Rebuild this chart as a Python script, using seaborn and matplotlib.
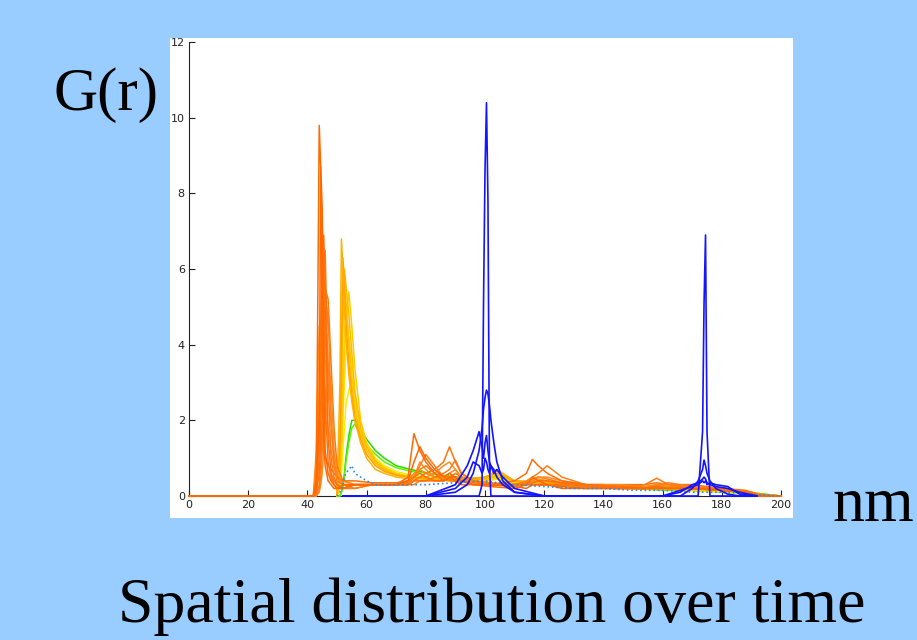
import matplotlib
matplotlib.use("Agg")
import matplotlib.pyplot as plt
import seaborn as sns
from matplotlib.patches import Rectangle

# r grids (nm) and G(r) values
ORANGE_R = [0, 42, 43, 44, 44.5, 45, 45.5, 46, 47, 48, 49, 50, 52, 56, 62, 70, 74, 76, 78, 80, 83,
            86, 88, 90, 92, 96, 102, 110, 114, 116, 118, 121, 126, 134, 145, 154, 158, 162, 170,
            180, 188, 192, 200]
orange_g = [
    [0, 0, 0.3, 9.8, 8.7, 4.0, 1.5, 0.8, 0.4, 0.3, 0.2, 0.2, 0.3, 0.3, 0.3, 0.3, 0.5, 1.65, 1.2, 0.9, 0.6,
     0.4, 0.5, 0.4, 0.3, 0.3, 0.25, 0.2, 0.3, 0.5, 0.4, 0.3, 0.2, 0.2, 0.2, 0.2, 0.25, 0.2, 0.2, 0.2, 0.1, 0, 0],
    [0, 0, 0.2, 2.0, 8.7, 7.6, 3.0, 1.2, 0.6, 0.4, 0.3, 0.2, 0.2, 0.3, 0.3, 0.3, 0.4, 0.9, 1.3, 1.0, 0.7,
     0.5, 0.6, 0.5, 0.4, 0.3, 0.3, 0.25, 0.2, 0.3, 0.3, 0.3, 0.25, 0.2, 0.2, 0.2, 0.2, 0.2, 0.2, 0.15, 0.1, 0, 0],
    [0, 0, 0.1, 1.0, 3.5, 7.2, 6.0, 2.5, 0.9, 0.5, 0.3, 0.2, 0.2, 0.3, 0.3, 0.3, 0.3, 0.4, 0.5, 0.6, 0.7,
     0.9, 1.3, 0.9, 0.6, 0.4, 0.3, 0.3, 0.3, 0.3, 0.3, 0.3, 0.3, 0.25, 0.2, 0.2, 0.2, 0.2, 0.2, 0.15, 0.1, 0, 0],
    [0, 0, 0.1, 0.6, 1.5, 4.0, 6.9, 5.5, 1.5, 0.6, 0.4, 0.3, 0.2, 0.3, 0.3, 0.3, 0.3, 0.4, 0.4, 0.4, 0.4,
     0.4, 0.5, 0.5, 0.4, 0.3, 0.3, 0.4, 0.6, 0.97, 0.8, 0.6, 0.4, 0.3, 0.25, 0.2, 0.2, 0.2, 0.2, 0.15, 0.1, 0, 0],
    [0, 0, 0, 0.3, 0.8, 2.0, 4.5, 6.5, 3.0, 1.0, 0.5, 0.3, 0.2, 0.2, 0.3, 0.3, 0.3, 0.3, 0.4, 0.4, 0.5,
     0.6, 0.7, 0.95, 0.6, 0.4, 0.3, 0.3, 0.3, 0.3, 0.3, 0.3, 0.3, 0.25, 0.2, 0.3, 0.47, 0.3, 0.2, 0.15, 0.1, 0, 0],
    [0, 0, 0, 0.2, 0.5, 1.2, 2.5, 4.0, 5.0, 2.0, 0.8, 0.4, 0.3, 0.2, 0.3, 0.3, 0.3, 0.5, 0.8, 1.1, 0.8,
     0.5, 0.4, 0.4, 0.4, 0.35, 0.3, 0.3, 0.4, 0.5, 0.6, 0.8, 0.5, 0.3, 0.25, 0.2, 0.3, 0.35, 0.25, 0.2, 0.1, 0, 0],
    [0, 0, 0, 0.1, 0.3, 0.6, 1.2, 2.0, 3.5, 3.0, 1.2, 0.6, 0.3, 0.3, 0.3, 0.3, 0.4, 0.6, 0.7, 0.6, 0.5,
     0.5, 0.6, 0.7, 0.5, 0.4, 0.3, 0.3, 0.3, 0.4, 0.5, 0.5, 0.4, 0.3, 0.3, 0.25, 0.3, 0.3, 0.25, 0.2, 0.1, 0, 0],
    [0, 0, 0.5, 2.2, 1.8, 1.5, 1.2, 1.0, 0.8, 0.7, 0.6, 0.5, 0.4, 0.4, 0.35, 0.35, 0.4, 0.5, 0.6, 0.5, 0.4,
     0.4, 0.45, 0.45, 0.4, 0.35, 0.3, 0.3, 0.3, 0.35, 0.4, 0.4, 0.35, 0.3, 0.3, 0.3, 0.35, 0.3, 0.3, 0.2, 0.15, 0.05, 0],
    [0, 0, 0.8, 3.0, 4.5, 6.0, 5.5, 4.8, 3.5, 2.0, 1.0, 0.5, 0.3, 0.3, 0.3, 0.3, 0.3, 0.4, 0.5, 0.5, 0.6,
     0.8, 0.9, 0.7, 0.5, 0.4, 0.3, 0.3, 0.3, 0.35, 0.4, 0.4, 0.3, 0.25, 0.2, 0.2, 0.25, 0.2, 0.2, 0.15, 0.1, 0, 0],
    [0, 0, 0.4, 1.5, 2.5, 3.5, 4.5, 5.5, 5.2, 3.5, 1.8, 0.8, 0.4, 0.3, 0.3, 0.3, 0.35, 0.5, 0.7, 0.8, 0.6,
     0.5, 0.5, 0.6, 0.5, 0.4, 0.35, 0.3, 0.35, 0.45, 0.5, 0.45, 0.35, 0.3, 0.25, 0.2, 0.3, 0.3, 0.2, 0.15, 0.1, 0, 0],
    [0, 0, 1.2, 4.5, 4.2, 3.8, 3.2, 2.6, 1.8, 1.2, 0.8, 0.5, 0.3, 0.3, 0.3, 0.3, 0.35, 0.5, 0.9, 0.7, 0.5,
     0.45, 0.5, 0.5, 0.45, 0.4, 0.3, 0.3, 0.3, 0.4, 0.45, 0.4, 0.3, 0.25, 0.25, 0.2, 0.3, 0.25, 0.2, 0.15, 0.1, 0, 0],
]
orange_colors = ["#FF6A00", "#FF6600", "#FF7510", "#FF6E08", "#FF7A14", "#FF801A", "#FF8A20", "#FF7000",
                 "#FF8C1A", "#FF7808", "#FF9020"]

MID_R = [50, 51, 51.5, 52, 52.5, 53, 54, 55, 56, 58, 60, 63, 66, 70, 75, 80, 90, 100, 104, 110,
         120, 130, 140, 150, 160, 170, 180, 186, 190, 194, 200]
yellow_g = [
    [0, 3.0, 6.8, 6.0, 5.0, 4.2, 3.2, 2.5, 2.0, 1.4, 1.0, 0.7, 0.6, 0.5, 0.45, 0.45, 0.4, 0.45, 0.7, 0.4,
     0.35, 0.3, 0.3, 0.25, 0.25, 0.2, 0.2, 0.15, 0.1, 0.02, 0],
    [0, 1.5, 4.0, 6.3, 5.6, 4.6, 3.5, 2.7, 2.1, 1.5, 1.1, 0.8, 0.65, 0.55, 0.5, 0.45, 0.4, 0.5, 0.6, 0.4,
     0.35, 0.3, 0.3, 0.25, 0.25, 0.2, 0.2, 0.15, 0.1, 0.02, 0],
    [0, 1.0, 3.0, 5.0, 6.0, 5.6, 4.8, 3.8, 2.8, 1.8, 1.3, 0.9, 0.7, 0.55, 0.5, 0.45, 0.42, 0.5, 0.65, 0.4,
     0.35, 0.3, 0.28, 0.25, 0.22, 0.2, 0.18, 0.12, 0.08, 0.02, 0],
    [0, 0.8, 2.5, 4.5, 5.8, 5.2, 4.0, 3.0, 2.3, 1.6, 1.2, 0.85, 0.7, 0.55, 0.5, 0.45, 0.4, 0.45, 0.55, 0.4,
     0.3, 0.3, 0.25, 0.25, 0.2, 0.2, 0.15, 0.12, 0.08, 0.02, 0],
    [0, 0.4, 1.2, 2.5, 3.8, 4.6, 5.4, 4.5, 3.4, 2.0, 1.4, 0.95, 0.75, 0.6, 0.5, 0.45, 0.4, 0.45, 0.55, 0.38,
     0.3, 0.28, 0.25, 0.22, 0.2, 0.18, 0.15, 0.1, 0.06, 0.02, 0],
    [0, 0.5, 1.5, 3.0, 4.2, 5.0, 4.2, 3.2, 2.5, 1.7, 1.3, 0.9, 0.75, 0.6, 0.5, 0.45, 0.4, 0.4, 0.5, 0.35,
     0.3, 0.3, 0.25, 0.2, 0.2, 0.15, 0.15, 0.1, 0.08, 0.02, 0],
    [0, 0.3, 1.0, 2.0, 3.0, 3.8, 4.2, 3.5, 2.7, 1.8, 1.35, 0.95, 0.75, 0.6, 0.5, 0.45, 0.4, 0.4, 0.45, 0.35,
     0.3, 0.25, 0.25, 0.2, 0.2, 0.15, 0.12, 0.1, 0.06, 0.02, 0],
    [0, 0.2, 0.6, 1.2, 1.8, 2.4, 2.8, 3.0, 2.6, 1.9, 1.4, 1.0, 0.8, 0.65, 0.55, 0.5, 0.42, 0.4, 0.45, 0.35,
     0.3, 0.25, 0.25, 0.2, 0.2, 0.15, 0.12, 0.1, 0.06, 0.02, 0],
]
yellow_colors = ["#FFB000", "#FFA000", "#FFBB00", "#FFC400", "#FFCC00", "#FFD500", "#FFE600", "#F0F000"]

green_g = [
    [0, 0, 0.1, 0.3, 0.6, 1.0, 1.6, 2.0, 2.0, 1.75, 1.5, 1.2, 1.0, 0.8, 0.7, 0.62, 0.5, 0.45, 0.5, 0.4,
     0.3, 0.3, 0.25, 0.2, 0.2, 0.15, 0.12, 0.1, 0.05, 0.05, 0],
    [0, 0, 0.1, 0.2, 0.5, 0.9, 1.4, 1.8, 1.9, 1.6, 1.35, 1.1, 0.9, 0.75, 0.65, 0.6, 0.5, 0.45, 0.45, 0.35,
     0.3, 0.25, 0.25, 0.2, 0.15, 0.15, 0.1, 0.08, 0.1, 0.05, 0],
]
green_colors = ["#22DD00", "#66EE00"]

cyan_g = [0, 0.1, 0.2, 0.3, 0.5, 0.6, 0.7, 0.8, 0.6, 0.5, 0.4, 0.3, 0.3, 0.3, 0.3, 0.3, 0.35, 0.4, 0.35, 0.3,
          0.25, 0.2, 0.2, 0.15, 0.15, 0.1, 0.1, 0.08, 0.05, 0.02, 0]

BLUE_R = [52, 56, 60, 70, 80, 90, 94, 96, 98, 99, 99.5, 100, 100.5, 101, 101.5, 102, 103, 104, 106, 110,
          120, 140, 160, 166, 170, 172, 173.5, 174, 174.5, 175, 176, 178, 182, 186, 192]
blue_g = [
    [0, 0, 0, 0, 0, 0, 0, 0, 0, 0.3, 5.1, 8.6, 10.4, 7.8, 0.8, 0, 0, 0, 0, 0,
     0, 0, 0, 0, 0, 0, 1.7, 5.1, 6.9, 1.7, 0, 0, 0, 0, 0],
    [0, 0, 0, 0, 0, 0.1, 0.3, 0.6, 1.2, 1.8, 2.3, 2.6, 2.8, 2.7, 2.4, 2.0, 1.4, 0.9, 0.4, 0.1,
     0, 0, 0, 0, 0.2, 0.4, 0.7, 0.95, 0.8, 0.6, 0.4, 0.2, 0.05, 0, 0],
    [0, 0, 0, 0, 0, 0.3, 0.8, 1.2, 1.7, 1.3, 1.0, 1.4, 1.6, 1.2, 0.9, 0.8, 0.6, 0.7, 0.5, 0.2,
     0, 0, 0, 0.1, 0.3, 0.35, 0.45, 0.5, 0.45, 0.35, 0.3, 0.25, 0.2, 0.1, 0],
    [0, 0, 0, 0, 0, 0.2, 0.5, 0.9, 0.8, 0.6, 0.7, 1.0, 0.9, 0.7, 0.6, 0.8, 0.7, 0.5, 0.3, 0.1,
     0, 0, 0, 0.15, 0.25, 0.3, 0.4, 0.35, 0.4, 0.3, 0.35, 0.3, 0.25, 0.05, 0],
]

X_TICKS = [0, 20, 40, 60, 80, 100, 120, 140, 160, 180, 200]
Y_TICKS = [0, 2, 4, 6, 8, 10, 12]

sns.set_style("ticks")
fig = plt.figure(figsize=(9.17, 6.4), dpi=100)
fig.patch.set_facecolor("#99CCFF")
# white plotting panel behind the axes
fig.patches.append(Rectangle((0.1854, 0.1906), 0.6794, 0.75, transform=fig.transFigure,
                             facecolor="white", edgecolor="none", zorder=-5))
ax = fig.add_axes([0.2061, 0.225, 0.6456, 0.709])
ax.set_facecolor("none")

for g, c in zip(green_g, green_colors):
    sns.lineplot(x=MID_R, y=g, color=c, lw=1.1, ax=ax, clip_on=False)
for g, c in zip(yellow_g[::-1], yellow_colors[::-1]):
    sns.lineplot(x=MID_R, y=g, color=c, lw=1.1, ax=ax, clip_on=False)
for g, c in zip(orange_g[::-1], orange_colors[::-1]):
    sns.lineplot(x=ORANGE_R, y=g, color=c, lw=1.1, ax=ax, clip_on=False)
sns.lineplot(x=MID_R, y=cyan_g, color="#2A8CF0", lw=1.2, ls=":", ax=ax, clip_on=False)
for g in blue_g:
    sns.lineplot(x=BLUE_R, y=g, color="#1414FF", lw=1.2, ax=ax, clip_on=False)

ax.set_xlim(0, 200)
ax.set_ylim(0, 12)
ax.set_xticks(X_TICKS)
ax.set_yticks(Y_TICKS)
ax.tick_params(direction="in", length=4, width=0.8, labelsize=8, colors="#222222", pad=3)
sns.despine(ax=ax)
for s in ["left", "bottom"]:
    ax.spines[s].set_color("#222222")
    ax.spines[s].set_linewidth(0.8)
    ax.spines[s].set_zorder(0.5)
ax.set_xlabel("")
ax.set_ylabel("")

serif = ["Liberation Serif", "DejaVu Serif"]
fig.text(0.058, 0.852, "G(r)", family=serif, fontsize=44, color="black", ha="left", va="center")
fig.text(0.908, 0.21, "nm", family=serif, fontsize=46, color="black", ha="left", va="center")
fig.text(0.536, 0.052, "Spatial distribution over time", family=serif, fontsize=46,
         color="black", ha="center", va="center")

fig.savefig("out.png", dpi=100, facecolor=fig.get_facecolor())
